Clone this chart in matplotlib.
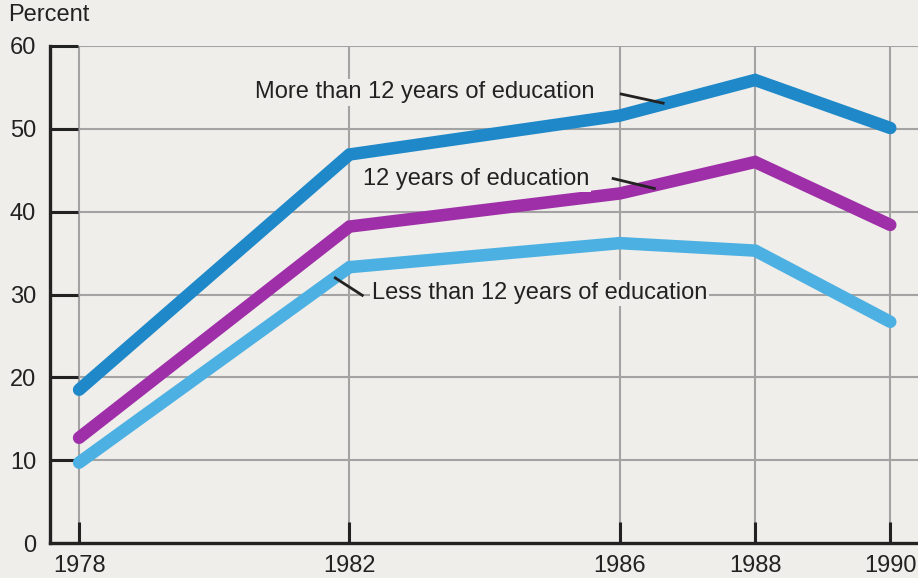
import matplotlib
matplotlib.use("Agg")
import matplotlib.pyplot as plt

years = [1978, 1982, 1986, 1988, 1990]
more_than_12 = [18.5, 46.9, 51.6, 55.9, 50.1]
twelve_years = [12.7, 38.2, 42.2, 46.0, 38.4]
less_than_12 = [9.7, 33.3, 36.2, 35.3, 26.7]
y_ticks = [0, 10, 20, 30, 40, 50, 60]
x_tick_labels = ["1978", "1982", "1986", "1988", "1990"]

BG = "#efeeea"
INK = "#222222"
GRID = "#a3a3a3"
plt.rcParams['font.family'] = ['Liberation Sans', 'DejaVu Sans']

fig = plt.figure(figsize=(9.18, 5.78), dpi=100, facecolor=BG)
ax = fig.add_axes([50/918, 1 - 543/578, 1 - 50/918, (543 - 46)/578])
ax.set_facecolor(BG)

ax.set_xlim(1977.57, 1990.41)
ax.set_ylim(0, 60)

for y in y_ticks[1:]:
    ax.axhline(y, color=GRID, lw=1.5, zorder=1)
for x in years:
    ax.axvline(x, color=GRID, lw=1.5, zorder=1)

lw = 9
cap = dict(solid_capstyle='round', solid_joinstyle='miter')
ax.plot(years, more_than_12, color="#1f88c9", lw=lw, zorder=3, **cap)
ax.plot(years, twelve_years, color="#9f2fa8", lw=lw, zorder=3, **cap)
ax.plot(years, less_than_12, color="#4db0e2", lw=lw, zorder=3, **cap)

fs = 17
box = dict(facecolor=BG, edgecolor='none', pad=1.5)
ax.text(1980.60, 54.4, "More than 12 years of education", fontsize=fs, color=INK,
        va='center', ha='left', bbox=box, zorder=4)
ax.text(1982.20, 44.0, "12 years of education", fontsize=fs, color=INK,
        va='center', ha='left', bbox=box, zorder=4)
ax.text(1982.33, 30.2, "Less than 12 years of education", fontsize=fs, color=INK,
        va='center', ha='left', bbox=box, zorder=4)

leader = dict(color=INK, lw=2, zorder=5)
ax.plot([1986.02, 1986.64], [54.2, 53.1], **leader)
ax.plot([1985.90, 1986.51], [44.0, 42.8], **leader)
ax.plot([1981.79, 1982.19], [32.0, 29.9], **leader)

for s in ['top', 'right']:
    ax.spines[s].set_visible(False)
for s in ['left', 'bottom']:
    ax.spines[s].set_color(INK)
    ax.spines[s].set_linewidth(2.4)
    ax.spines[s].set_zorder(6)

ax.set_yticks(y_ticks)
ax.set_yticklabels([str(v) for v in y_ticks])
ax.set_xticks(years)
ax.set_xticklabels(x_tick_labels)
ax.tick_params(axis='y', direction='in', length=20, width=2.2, color=INK,
               labelsize=fs, labelcolor=INK, pad=10)
ax.tick_params(axis='x', direction='in', length=15, width=2.2, color=INK,
               labelsize=fs, labelcolor=INK, pad=9)
for t in ax.yaxis.get_major_ticks():
    t.tick1line.set_zorder(6)

fig.text(8/918, 1 - 15/578, "Percent", fontsize=fs, color=INK, ha='left', va='center')

fig.savefig("out.png", dpi=100, facecolor=BG)
